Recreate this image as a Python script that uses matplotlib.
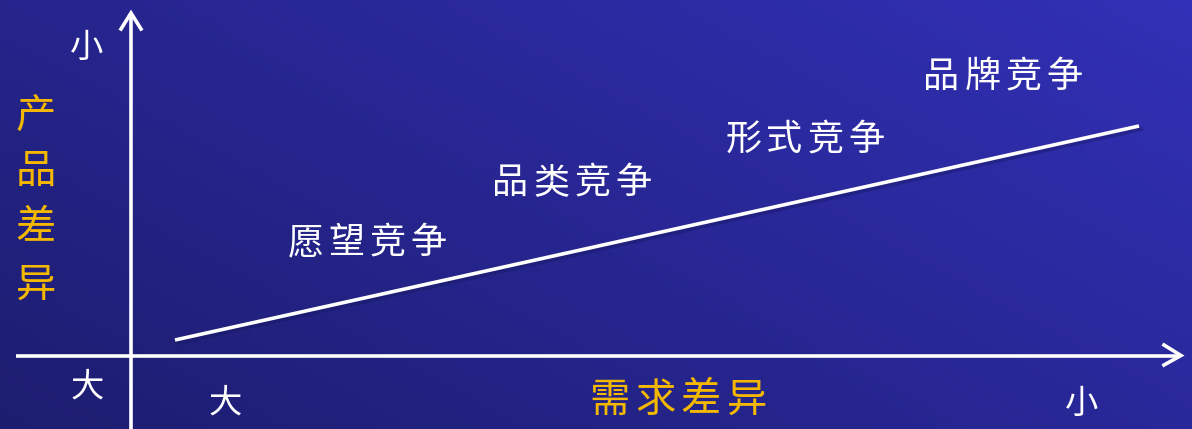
import numpy as np
import matplotlib
matplotlib.use("Agg")
import matplotlib.pyplot as plt

plt.rcParams['font.family'] = ['Noto Sans CJK SC', 'DejaVu Sans']

# ---- data (pixel-like diagram coordinates) ----
stage_labels = ["愿望竞争", "品类竞争", "形式竞争", "品牌竞争"]
stage_x = [367, 572, 805, 1003]
stage_y = [243, 183, 140, 77]

trend_x = [175, 1139]
trend_y = [340, 126]

y_axis_title = ["产", "品", "差", "异"]
y_title_y = [117, 171, 228, 285]
x_axis_title = "需求差异"

y_tick_labels = ["小", "大"]
y_tick_pos = [(87, 47), (87, 387)]
x_tick_labels = ["大", "小"]
x_tick_pos = [(225, 403), (1082, 403)]

W, H = 1192, 429
origin = (131, 356)

fig = plt.figure(figsize=(W / 100, H / 100), dpi=100)
ax = fig.add_axes([0, 0, 1, 1])
ax.set_xlim(0, W)
ax.set_ylim(H, 0)
ax.axis('off')

# gradient background
gx = np.linspace(0, 1, 200)
gy = np.linspace(0, 1, 80)
GX, GY = np.meshgrid(gx, gy)
t = 0.6 * GX + 0.4 * (1 - GY)
c0 = np.array([29, 29, 112]) / 255
c1 = np.array([50, 48, 182]) / 255
img = c0[None, None, :] * (1 - t[..., None]) + c1[None, None, :] * t[..., None]
ax.imshow(img, extent=[0, W, H, 0], aspect='auto', zorder=0)

lw = 2.6
white = '#ffffff'
ax.plot([origin[0], origin[0]], [H, 13], color=white, lw=lw, solid_capstyle='butt', zorder=3)
ax.plot([121, 131, 141], [29, 13, 29], color=white, lw=lw, solid_joinstyle='miter', zorder=3)
ax.plot([16, 1181], [origin[1], origin[1]], color=white, lw=lw, solid_capstyle='butt', zorder=3)
ax.plot([1164, 1181, 1164], [345, 355.5, 365], color=white, lw=lw, solid_joinstyle='miter', zorder=3)

ax.plot([x + 2 for x in trend_x], [y + 3 for y in trend_y], color='#15155a', lw=3, alpha=0.35, zorder=2)
ax.plot(trend_x, trend_y, color=white, lw=2.6, solid_capstyle='butt', zorder=3)


def spaced(xc, yc, s, pitch, **kw):
    n = len(s)
    for i, ch in enumerate(s):
        ax.text(xc + (i - (n - 1) / 2) * pitch, yc, ch, ha='center', va='center', zorder=4, **kw)


for lab, x, y in zip(stage_labels, stage_x, stage_y):
    spaced(x, y, lab, 41, color=white, fontsize=26)

gold = '#f5b800'
for ch, y in zip(y_axis_title, y_title_y):
    ax.text(36, y, ch, color=gold, fontsize=29, ha='center', va='center', zorder=4)
spaced(678, 400, x_axis_title, 46, color=gold, fontsize=29)

for lab, (x, y) in zip(y_tick_labels, y_tick_pos):
    ax.text(x, y, lab, color=white, fontsize=24, ha='center', va='center', zorder=4)
for lab, (x, y) in zip(x_tick_labels, x_tick_pos):
    ax.text(x, y, lab, color=white, fontsize=24, ha='center', va='center', zorder=4)

fig.savefig('out.png', dpi=100)
